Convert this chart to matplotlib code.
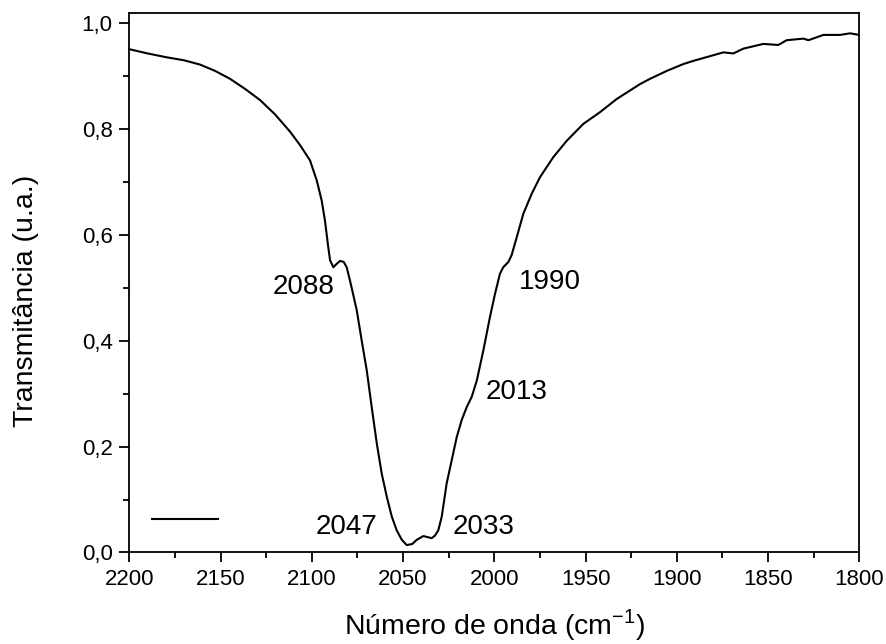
import matplotlib
matplotlib.use("Agg")
import matplotlib.pyplot as plt
from matplotlib.ticker import MultipleLocator, FuncFormatter

plt.rcParams['font.family'] = ['Liberation Sans', 'DejaVu Sans']

# FTIR spectrum in the carbonyl region
wavenumber = [2200, 2190, 2180, 2170, 2161.3, 2153, 2144.8, 2136.6, 2128.4, 2120.2,
              2111.9, 2106.5, 2101, 2097.3, 2094.6, 2092.8, 2091, 2090, 2088.2,
              2086.5, 2084.5, 2082.5, 2080.9, 2079.1, 2075.4, 2072.7, 2069.9, 2067.2,
              2064.4, 2061.7, 2058.9, 2056.2, 2053.5, 2050.7, 2048, 2045, 2042.5,
              2038.9, 2036.5, 2034.3, 2032.5, 2030.7, 2028.8, 2026.1, 2023.3, 2020.6,
              2017.9, 2015.1, 2012.4, 2009.6, 2006, 2002.4, 1999.6, 1996.9, 1995.1,
              1992.3, 1990.5, 1988.7, 1987.7, 1984.1, 1979.5, 1975, 1967.7, 1960.3,
              1951.2, 1942.1, 1932.9, 1920.2, 1914.7, 1905.5, 1896.4, 1890.9, 1874.5,
              1869, 1863.6, 1852.6, 1844.4, 1839.8, 1830.7, 1827.9, 1819.7, 1810.6,
              1805.1, 1800]
transmittance = [0.951, 0.943, 0.936, 0.930, 0.922, 0.910, 0.895, 0.876, 0.855, 0.828,
                 0.795, 0.770, 0.741, 0.703, 0.665, 0.627, 0.577, 0.552, 0.539,
                 0.545, 0.551, 0.549, 0.539, 0.514, 0.458, 0.401, 0.344, 0.275,
                 0.206, 0.149, 0.105, 0.068, 0.042, 0.024, 0.014, 0.016, 0.024,
                 0.031, 0.029, 0.027, 0.032, 0.042, 0.068, 0.131, 0.175, 0.218,
                 0.250, 0.275, 0.294, 0.325, 0.382, 0.445, 0.489, 0.527, 0.539,
                 0.549, 0.562, 0.584, 0.596, 0.640, 0.678, 0.709, 0.747, 0.778,
                 0.810, 0.832, 0.857, 0.885, 0.895, 0.910, 0.923, 0.929, 0.945,
                 0.943, 0.952, 0.961, 0.959, 0.968, 0.971, 0.968, 0.978, 0.978,
                 0.981, 0.978]

# Band labels and where they are written
band_labels = ["2088", "1990", "2013", "2047", "2033"]
label_x = [2104.8, 1969.5, 1987.7, 2080.9, 2006.0]
label_y = [0.501, 0.511, 0.304, 0.048, 0.049]

fig = plt.figure(figsize=(8.87, 6.44), dpi=100)
ax = fig.add_axes([0.1458, 0.1421, 0.8230, 0.8382])

ax.plot(wavenumber, transmittance, color='black', lw=1.5,
        solid_joinstyle='round')

for txt, xx, yy in zip(band_labels, label_x, label_y):
    ax.text(xx, yy, txt, fontsize=20, ha='center', va='center')

# legend sample line (no text)
ax.plot([0.031, 0.1215], [0.0615, 0.0615], color='black', lw=1.5,
        transform=ax.transAxes)

ax.set_xlim(2200, 1800)
ax.set_ylim(0, 1.02)
ax.xaxis.set_major_locator(MultipleLocator(50))
ax.xaxis.set_minor_locator(MultipleLocator(25))
ax.yaxis.set_major_locator(MultipleLocator(0.2))
ax.yaxis.set_minor_locator(MultipleLocator(0.1))
ax.yaxis.set_major_formatter(FuncFormatter(lambda v, p: f"{v:.1f}".replace('.', ',')))

ax.tick_params(which='major', direction='out', length=7, width=1.3,
               labelsize=16, pad=5)
ax.tick_params(which='minor', direction='out', length=4.5, width=1.3)
for s in ax.spines.values():
    s.set_linewidth(1.3)

ax.set_xlabel("Número de onda (cm$^{\\mathregular{-1}}$)", fontsize=20.5, labelpad=12)
ax.set_ylabel("Transmitância (u.a.)", fontsize=20.5)
ax.yaxis.set_label_coords(-0.124, 0.466)

fig.savefig("out.png", dpi=100)
